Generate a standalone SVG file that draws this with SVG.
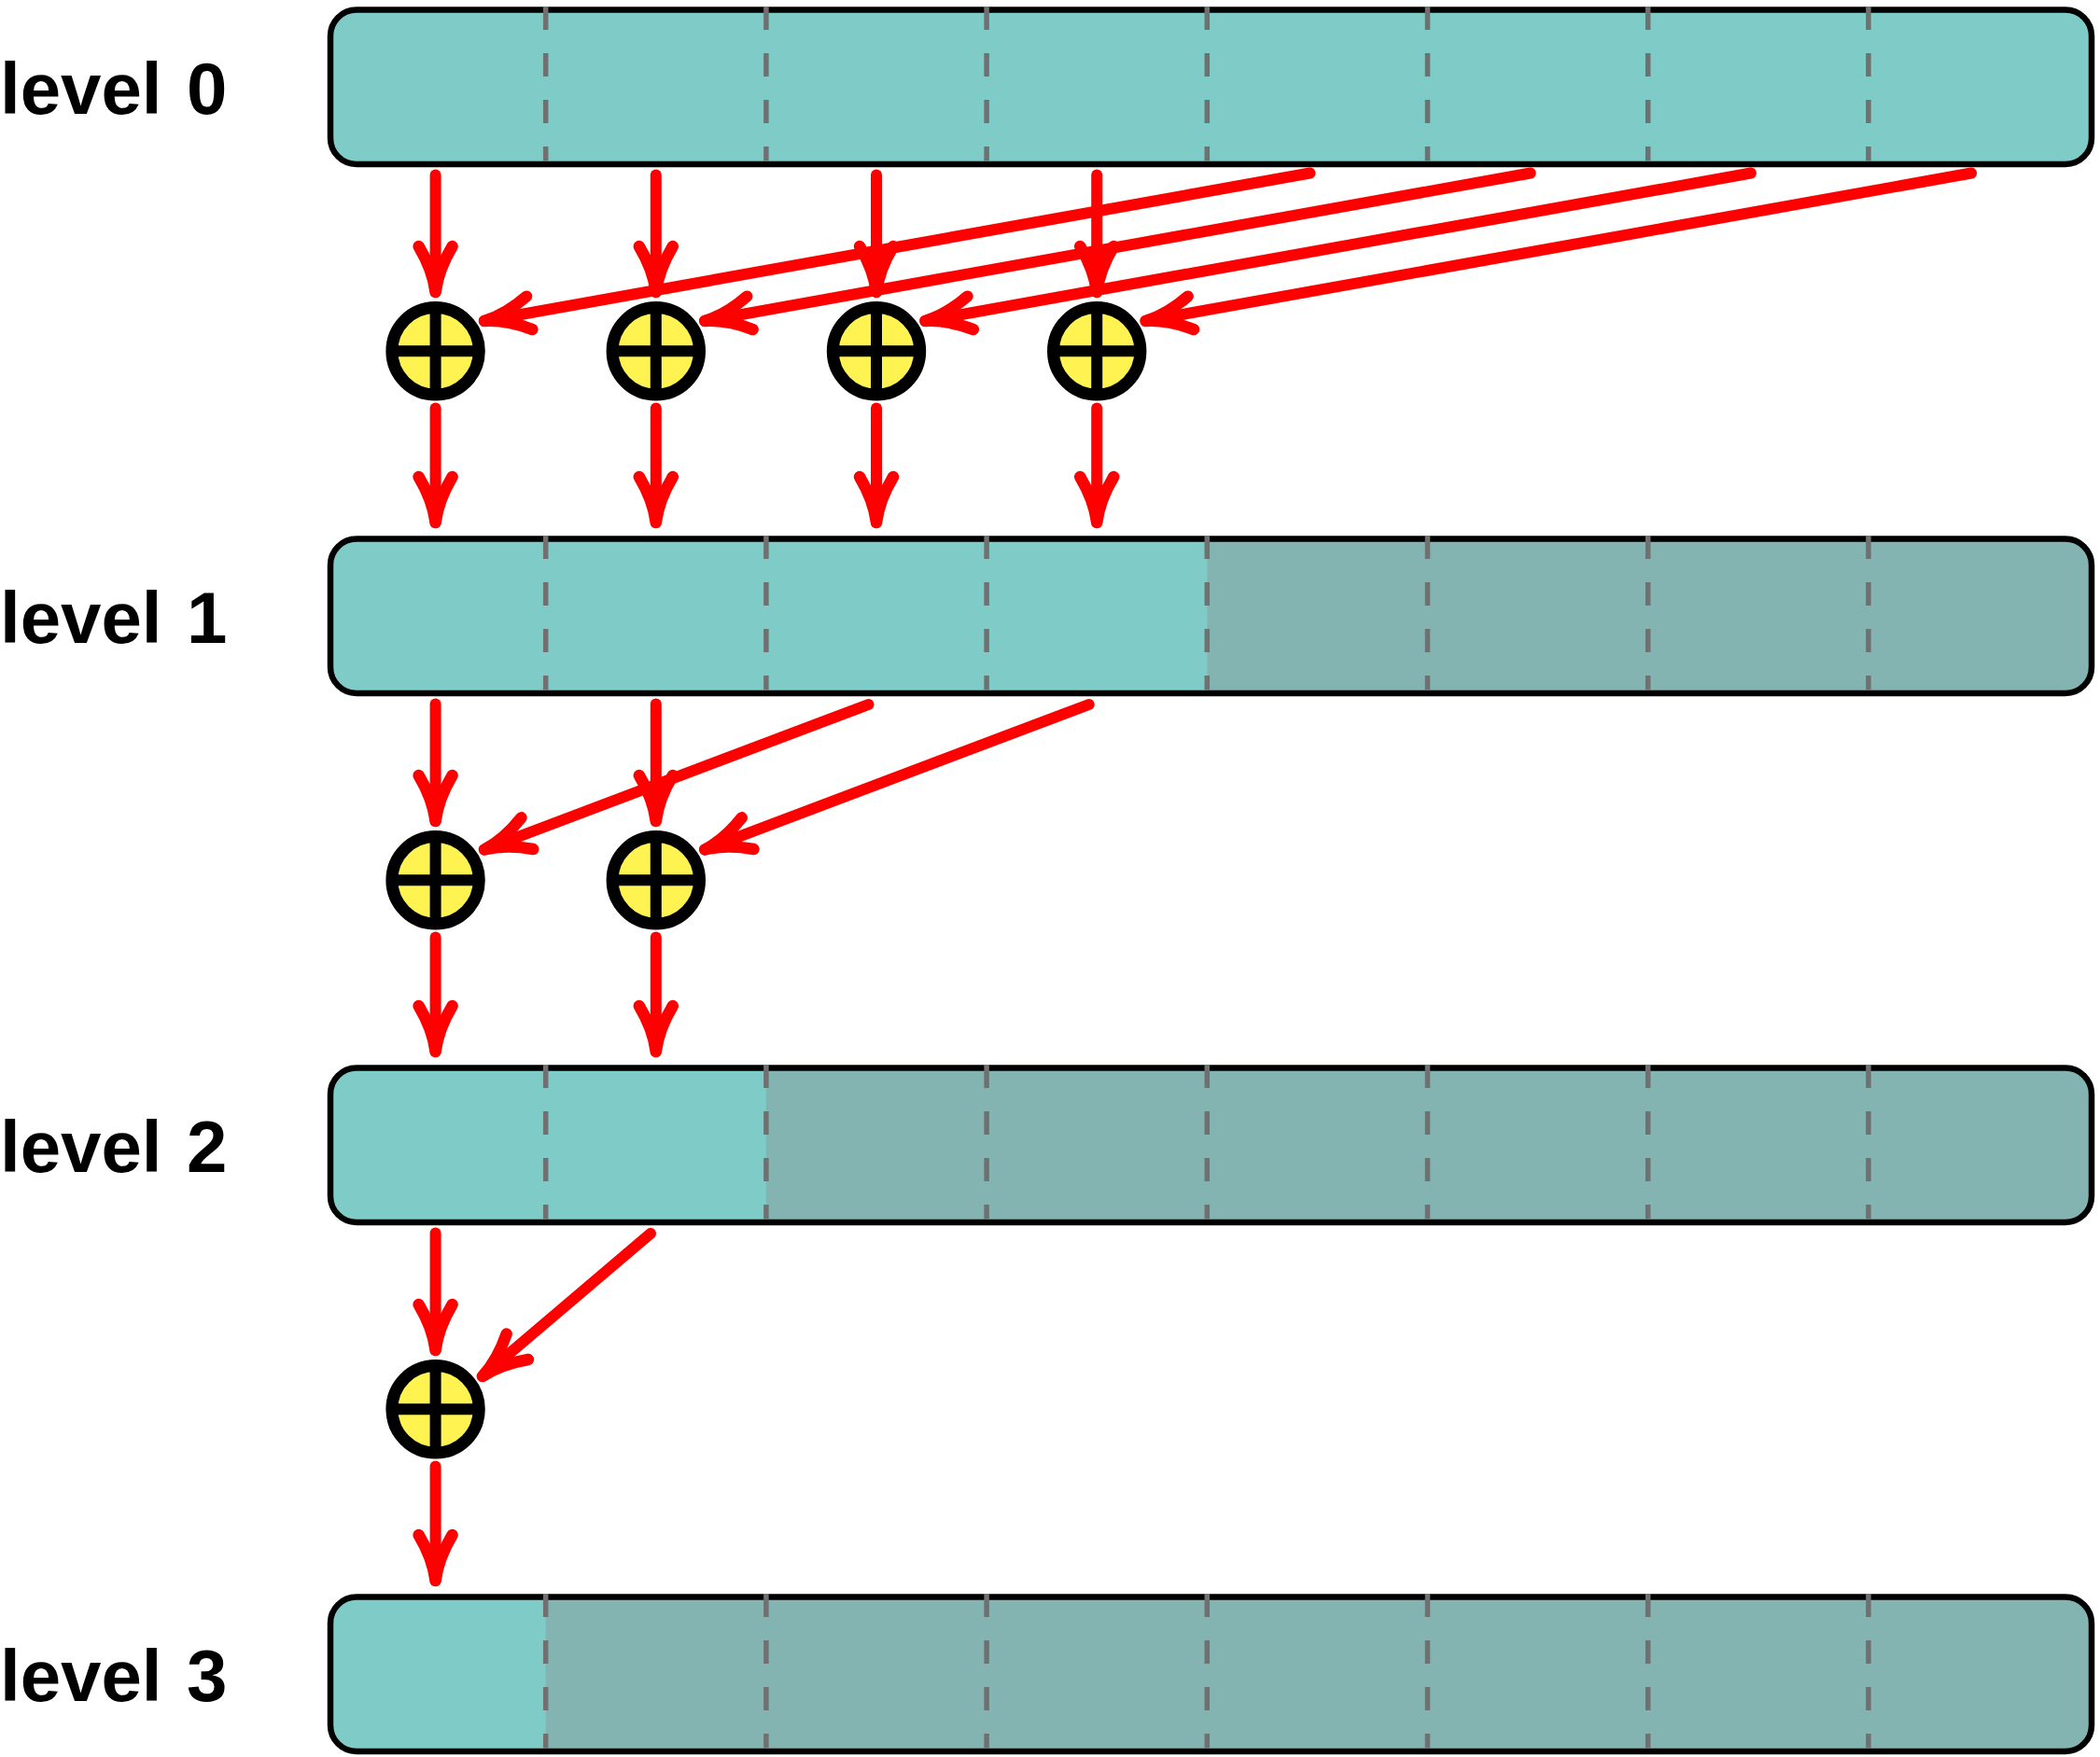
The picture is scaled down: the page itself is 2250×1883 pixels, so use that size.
<svg xmlns="http://www.w3.org/2000/svg" xmlns:xlink="http://www.w3.org/1999/xlink" width="2250" height="1883" viewBox="0 0 2250 1883">
<style>
.lbl{font-family:"Liberation Sans",Arial,sans-serif;font-weight:bold;font-size:78px;fill:#000}
.light{fill:#7ecbc7}
.dark{fill:#84b4b1}
.border{fill:none;stroke:#000;stroke-width:6.5}
.div{stroke:#707070;stroke-width:5.5;stroke-dasharray:25 25}
.arr{stroke:#ff0000;stroke-width:12;stroke-linecap:round;fill:none;marker-end:url(#head)}
</style>
<defs>
<marker id="head" markerUnits="userSpaceOnUse" viewBox="-60 -30 70 60" markerWidth="70" markerHeight="60" refX="0" refY="0" orient="auto">
<path d="M -49 -18 Q -24 -3 0 0 Q -24 3 -49 18" fill="none" stroke="#ff0000" stroke-width="12.5" stroke-linecap="round" stroke-linejoin="round"/>
<path d="M -30 -4 Q -14 -1.5 0 0 Q -14 1.5 -30 4 Z" fill="#ff0000" stroke="#ff0000" stroke-width="8" stroke-linejoin="round"/>
</marker>
<g id="adder">
<circle cx="0" cy="0" r="46.7" fill="#fff352" stroke="#000" stroke-width="13"/>
<line x1="0" y1="-46.7" x2="0" y2="46.7" stroke="#000" stroke-width="12"/>
<line x1="-46.7" y1="0" x2="46.7" y2="0" stroke="#000" stroke-width="12"/>
</g>
<g id="dividers">
<line class="div" x1="584.7" y1="7" x2="584.7" y2="172.5"/>
<line class="div" x1="820.9" y1="7" x2="820.9" y2="172.5"/>
<line class="div" x1="1057.1" y1="7" x2="1057.1" y2="172.5"/>
<line class="div" x1="1293.3" y1="7" x2="1293.3" y2="172.5"/>
<line class="div" x1="1529.5" y1="7" x2="1529.5" y2="172.5"/>
<line class="div" x1="1765.7" y1="7" x2="1765.7" y2="172.5"/>
<line class="div" x1="2001.9" y1="7" x2="2001.9" y2="172.5"/>
</g>
</defs>

<g id="level0">
<text class="lbl" x="0" y="121.7">level <tspan x="200">0</tspan></text>
<rect class="light" x="354" y="10.5" width="1887" height="165.5" rx="28"/>
<rect class="border" x="354" y="10.5" width="1887" height="165.5" rx="28"/>
<use xlink:href="#dividers" href="#dividers"/>
</g>

<g id="level1">
<text class="lbl" x="0" y="688.7">level <tspan x="200">1</tspan></text>
<rect class="light" x="354" y="577.5" width="1887" height="165.5" rx="28"/>
<path class="dark" d="M1293.3,577.5 H2213 A28 28 0 0 1 2241,605.5 V715 A28 28 0 0 1 2213,743 H1293.3 Z"/>
<rect class="border" x="354" y="577.5" width="1887" height="165.5" rx="28"/>
<use xlink:href="#dividers" href="#dividers" y="567"/>
</g>

<g id="level2">
<text class="lbl" x="0" y="1255.7">level <tspan x="200">2</tspan></text>
<rect class="light" x="354" y="1144.5" width="1887" height="165.5" rx="28"/>
<path class="dark" d="M820.9,1144.5 H2213 A28 28 0 0 1 2241,1172.5 V1282 A28 28 0 0 1 2213,1310 H820.9 Z"/>
<rect class="border" x="354" y="1144.5" width="1887" height="165.5" rx="28"/>
<use xlink:href="#dividers" href="#dividers" y="1134"/>
</g>

<g id="level3">
<text class="lbl" x="0" y="1822.7">level <tspan x="200">3</tspan></text>
<rect class="light" x="354" y="1711.5" width="1887" height="165.5" rx="28"/>
<path class="dark" d="M584.7,1711.5 H2213 A28 28 0 0 1 2241,1739.5 V1849 A28 28 0 0 1 2213,1877 H584.7 Z"/>
<rect class="border" x="354" y="1711.5" width="1887" height="165.5" rx="28"/>
<use xlink:href="#dividers" href="#dividers" y="1701"/>
</g>

<g id="sum0_0"><use xlink:href="#adder" href="#adder" x="466.6" y="376.3"/></g>
<g id="sum0_1"><use xlink:href="#adder" href="#adder" x="702.8" y="376.3"/></g>
<g id="sum0_2"><use xlink:href="#adder" href="#adder" x="939" y="376.3"/></g>
<g id="sum0_3"><use xlink:href="#adder" href="#adder" x="1175.2" y="376.3"/></g>
<g id="sum1_0"><use xlink:href="#adder" href="#adder" x="466.6" y="943.3"/></g>
<g id="sum1_1"><use xlink:href="#adder" href="#adder" x="702.8" y="943.3"/></g>
<g id="sum2_0"><use xlink:href="#adder" href="#adder" x="466.6" y="1510.3"/></g>

<g id="connectors">
<line class="arr" x1="466.6" y1="187.5" x2="466.6" y2="313"/>
<line class="arr" x1="702.8" y1="187.5" x2="702.8" y2="313"/>
<line class="arr" x1="939" y1="187.5" x2="939" y2="313"/>
<line class="arr" x1="1175.2" y1="187.5" x2="1175.2" y2="313"/>
<line class="arr" x1="1403.5" y1="185.5" x2="519" y2="344"/>
<line class="arr" x1="1639.7" y1="185.5" x2="755.2" y2="344"/>
<line class="arr" x1="1875.9" y1="185.5" x2="991.4" y2="344"/>
<line class="arr" x1="2112.1" y1="185.5" x2="1227.6" y2="344"/>
<line class="arr" x1="466.6" y1="437.5" x2="466.6" y2="560"/>
<line class="arr" x1="702.8" y1="437.5" x2="702.8" y2="560"/>
<line class="arr" x1="939" y1="437.5" x2="939" y2="560"/>
<line class="arr" x1="1175.2" y1="437.5" x2="1175.2" y2="560"/>
<line class="arr" x1="466.6" y1="754.5" x2="466.6" y2="880"/>
<line class="arr" x1="702.8" y1="754.5" x2="702.8" y2="880"/>
<line class="arr" x1="930.5" y1="755" x2="519" y2="910.5"/>
<line class="arr" x1="1166.7" y1="755" x2="755.2" y2="910.5"/>
<line class="arr" x1="466.6" y1="1004.5" x2="466.6" y2="1127"/>
<line class="arr" x1="702.8" y1="1004.5" x2="702.8" y2="1127"/>
<line class="arr" x1="466.6" y1="1321.5" x2="466.6" y2="1447"/>
<line class="arr" x1="697" y1="1322" x2="517" y2="1475"/>
<line class="arr" x1="466.6" y1="1571.5" x2="466.6" y2="1694"/>
</g>
</svg>
